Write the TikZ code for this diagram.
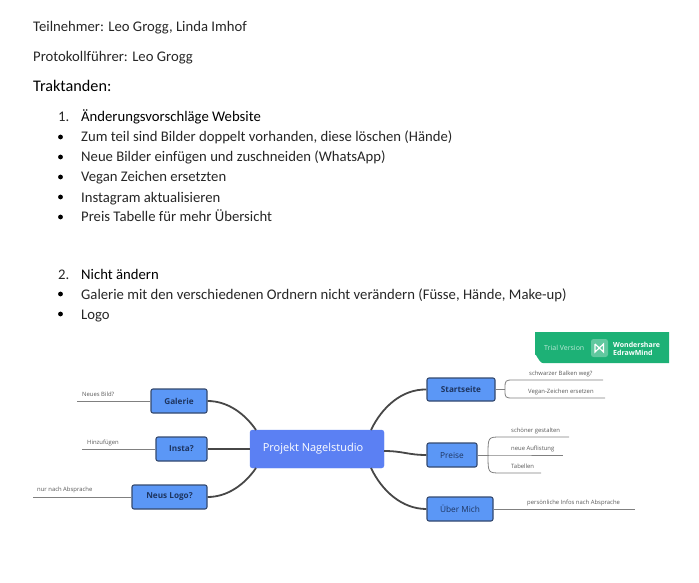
\documentclass[tikz,border=0pt]{standalone}
\usepackage{fontspec}
\usepackage{xcolor}
\setmainfont{Carlito}
\newfontfamily\mapfont{Open Sans}
\definecolor{branchblue}{HTML}{5B97F6}
\definecolor{rootblue}{HTML}{5B80F3}
\definecolor{borderblue}{HTML}{34496E}
\definecolor{inkblue}{HTML}{1E3560}
\definecolor{trialgreen}{HTML}{1DB176}
\tikzset{
  doctext/.style={anchor=base west, inner sep=0pt, font=\fontsize{14.7}{17}\selectfont, text=black!85},
  branch/.style={draw=borderblue, fill=branchblue, line width=1.1pt, rounded corners=2pt, anchor=center, inner sep=0pt},
  boldlabel/.style={font=\mapfont\bfseries\fontsize{8.2}{9}\selectfont, text=inkblue},
  plainlabel/.style={font=\mapfont\fontsize{8.3}{9}\selectfont, text=inkblue},
  leaftext/.style={anchor=base west, inner sep=0pt, font=\mapfont\fontsize{5.9}{7}\selectfont, text=black!65},
  thick link/.style={draw=black!72, line width=1.8pt},
  thin link/.style={draw=black!50, line width=0.8pt},
}
\begin{document}
\begin{tikzpicture}[x=1pt, y=-1pt]
\useasboundingbox (0,0) rectangle (699,583);
% --- Header lines ---
\node[doctext] (teilnehmer) at (33,32) {Teilnehmer: Leo Grogg, Linda Imhof};
\node[doctext] (protokoll) at (33,62) {Protokollführer: Leo Grogg};
\node[doctext, font=\fontsize{16.2}{19}\selectfont, text=black] (traktanden) at (33,92) {Traktanden:};
% --- List items ---
\node[doctext] (num1) at (58,122) {1.};
\node[doctext] (num2) at (58,279) {2.};
\foreach \name/\y/\txt in {a/122/Änderungsvorschläge Website, g/279/Nicht ändern} {
  \node[doctext, text=black] (item\name) at (81,\y) {\txt};
}
\foreach \name/\y/\txt in {b/142/{Zum teil sind Bilder doppelt vorhanden, diese löschen (Hände)}, c/162/Neue Bilder einfügen und zuschneiden (WhatsApp), d/182/Vegan Zeichen ersetzten, e/202/Instagram aktualisieren, f/222/Preis Tabelle für mehr Übersicht, h/299/{Galerie mit den verschiedenen Ordnern nicht verändern (Füsse, Hände, Make-up)}, i/319/Logo} {
  \node[doctext] (item\name) at (81,\y) {\txt};
  \fill[black] (60.5,\y-5) circle (2.4);
}
% --- Trial banner ---
\fill[trialgreen] (535,332) -- (669,332) -- (669,363) -- (543,363) to[out=180, in=90] (535,355) -- cycle;
\node[anchor=base west, inner sep=0pt, font=\mapfont\fontsize{7}{8}\selectfont, text=white!70!trialgreen] (trial) at (544,350.5) {Trial Version};
\fill[white!30!trialgreen, rounded corners=2.5pt] (591,339) rectangle (608,357);
\draw[white, line width=1.2pt] (595,344) -- (595,352) -- (603.5,344) -- (603.5,352) -- (599.3,348) -- (595,344);
\node[anchor=base west, inner sep=0pt, font=\mapfont\bfseries\fontsize{7}{9}\selectfont, text=white] (wonder) at (613,347) {Wondershare};
\node[anchor=base west, inner sep=0pt, font=\mapfont\bfseries\fontsize{7}{9}\selectfont, text=white] (edraw) at (613,355) {EdrawMind};
% --- Mind map nodes ---
\node[draw=rootblue, fill=rootblue, rounded corners=2.5pt, minimum width=134pt, minimum height=38pt, inner sep=0pt, font=\mapfont\fontsize{11}{12}\selectfont, text=white] (root) at (317,449) {Projekt Nagelstudio\hspace*{8pt}};
\node[branch, minimum width=56pt, minimum height=24pt, boldlabel] (galerie) at (179,401) {Galerie};
\node[branch, minimum width=51pt, minimum height=24pt, boldlabel] (insta) at (181.5,449) {Insta?};
\node[branch, minimum width=75pt, minimum height=24pt, boldlabel] (logo) at (169.5,497) {Neus Logo?};
\node[branch, minimum width=68pt, minimum height=23pt, boldlabel] (start) at (461,389.5) {Startseite};
\node[branch, minimum width=50pt, minimum height=24pt, plainlabel] (preise) at (452,455) {Preise};
\node[branch, minimum width=66pt, minimum height=24pt, plainlabel] (mich) at (460,509) {Über Mich};
% --- Thick links ---
\coordinate (rootnw) at (256,430);
\coordinate (rootsw) at (256,468);
\coordinate (rootne) at (371,430);
\coordinate (rootse) at (371,468);
\coordinate (rooteast) at (384,451);
\draw[thick link] (galerie.east) .. controls (228,401) and (245,414) .. (rootnw);
\draw[thick link] (insta.east) -- (root.west);
\draw[thick link] (logo.east) .. controls (228,497) and (245,484) .. (rootsw);
\draw[thick link] (start.west) .. controls (402,389) and (382,407) .. (rootne);
\draw[thick link] (preise.west) .. controls (408,455) and (403,451) .. (rooteast);
\draw[thick link] (mich.west) .. controls (402,509) and (382,491) .. (rootse);
% --- Leaf lines, left side ---
\foreach \name/\x/\y/\from in {neues/77/401/galerie, hinzu/82/449/insta, nach/33/497/logo} {
  \coordinate (\name end) at (\x,\y);
  \draw[thin link] (\from.west) -- (\name end);
}
\node[leaftext] (neueslabel) at (82,396) {Neues Bild?};
\node[leaftext] (hinzulabel) at (87,444) {Hinzufügen};
\node[leaftext] (nachlabel) at (37,491) {nur nach Absprache};
% --- Leaf lines, right side ---
\coordinate (startfork) at (505,389.5);
\coordinate (preisefork) at (488,455);
\draw[thin link] (start.east) -- (startfork);
\draw[thin link] (preise.east) -- (preisefork);
\foreach \name/\fork/\x/\bend/\y/\stop in {balken/startfork/505/514/380/603, vegan/startfork/505/514/398/605, schoen/preisefork/488/501/437/569, auflist/preisefork/488/501/455/563, tabelle/preisefork/488/501/473/541} {
  \coordinate (\name end) at (\stop,\y);
  \draw[thin link] (\fork) .. controls (\x,\y) and (\x,\y) .. (\bend,\y) -- (\name end);
}
\coordinate (michend) at (635,509);
\draw[thin link] (mich.east) -- (michend);
\node[leaftext] (balkenlabel) at (529,375) {schwarzer Balken weg?};
\node[leaftext] (veganlabel) at (528,393) {Vegan-Zeichen ersetzen};
\node[leaftext] (schoenlabel) at (511,432) {schöner gestalten};
\node[leaftext] (auflistlabel) at (511,450) {neue Auflistung};
\node[leaftext] (tabellelabel) at (511,468) {Tabellen};
\node[leaftext] (michlabel) at (527,504) {persönliche Infos nach Absprache};
\end{tikzpicture}
\end{document}
